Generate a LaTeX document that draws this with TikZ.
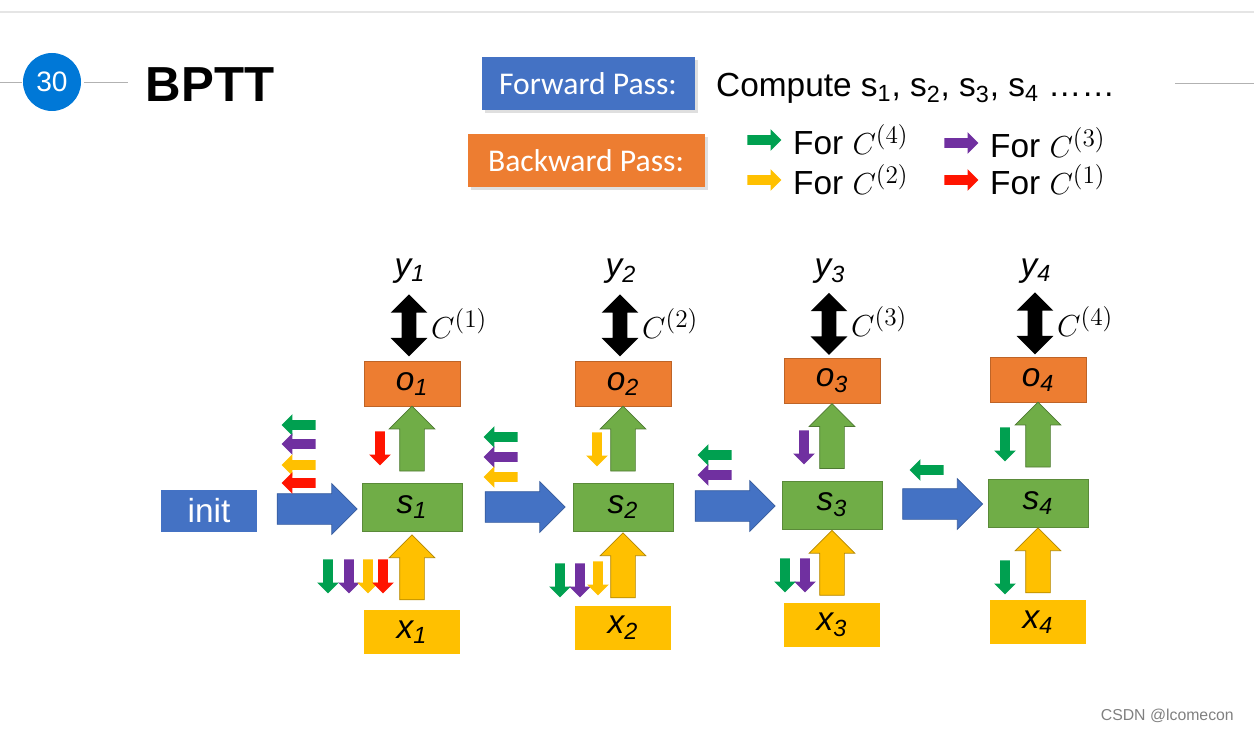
\documentclass[tikz,border=0pt]{standalone}
\usepackage{fontspec}
\setmainfont{Liberation Sans}
\newfontfamily\calib{Carlito}
\usetikzlibrary{shapes.arrows, shapes.geometric, positioning, calc, shadows}
\definecolor{pblue}{RGB}{68,114,196}
\definecolor{porange}{RGB}{237,125,49}
\definecolor{pgreen}{RGB}{112,173,71}
\definecolor{pyellow}{RGB}{255,192,0}
\definecolor{cgreen}{RGB}{0,160,80}
\definecolor{cpurple}{RGB}{112,48,160}
\definecolor{cred}{RGB}{255,20,0}
\definecolor{cdot}{RGB}{0,120,215}
\tikzset{
  box/.style={rectangle, minimum width=19.2mm, minimum height=9mm, inner sep=0pt,
    font=\fontsize{19}{20}\selectfont\itshape},
  sbox/.style={box, fill=pgreen, draw=pgreen!80!black, minimum width=20mm, minimum height=9.6mm},
  obox/.style={box, fill=porange, draw=porange!80!black},
  xbox/.style={box, fill=pyellow, minimum height=8.8mm},
  bigarr/.style={single arrow, inner xsep=0pt, inner ysep=3mm, minimum height=16mm, minimum width=10mm,
    single arrow head extend=2mm, fill=pblue, draw=pblue!80!black},
  uparr/.style={single arrow, inner xsep=0pt, inner ysep=2.4mm, minimum height=13mm, minimum width=9mm,
    single arrow head extend=2.1mm, rotate=90, draw=#1!70!black, fill=#1},
  cost/.style={double arrow, inner xsep=0pt, inner ysep=1.4mm, minimum height=12.4mm, minimum width=7.2mm,
    double arrow head extend=2.2mm, rotate=90, fill=black},
  sm/.style={single arrow, inner xsep=0pt, inner ysep=0.9mm, minimum height=6.8mm, minimum width=4.2mm,
    single arrow head extend=1.2mm, fill=#1},
  smleft/.style={sm=#1, shape border rotate=180},
  smdown/.style={sm=#1, rotate=-90},
  passbox/.style={rectangle, minimum height=10.6mm, font=\calib\fontsize{18}{20}\selectfont,
    text=white, drop shadow={opacity=0.25, shadow xshift=0.6mm, shadow yshift=-0.6mm}},
  lbl/.style={font=\fontsize{19}{20}\selectfont}
}
\begin{document}
\begin{tikzpicture}[x=0.2mm, y=-0.2mm]
  \useasboundingbox (0,0) rectangle (1254,730);
  % header
  \draw[gray!20, line width=1pt] (0,12) -- (1254,12);
  \draw[gray!60] (0,82) -- (22,82) (84,82) -- (128,82) (1175,83) -- (1254,83);
  \node[circle, fill=cdot, minimum size=11.6mm, text=white, font=\fontsize{16}{18}\selectfont] (num) at (52,82) {30};
  \node[font=\fontsize{28}{30}\selectfont\bfseries] (title) at (210,85) {BPTT};
  \node[passbox, fill=pblue, minimum width=42.6mm] (fwd) at (588,84) {Forward Pass:};
  \node[passbox, fill=porange, minimum width=47.4mm] (bwd) at (586,161) {Backward Pass:};
  \node[lbl, anchor=west] (comp) at (710,88) {Compute s\textsubscript{1}, s\textsubscript{2}, s\textsubscript{3}, s\textsubscript{4} \dots\dots};
  % legend
  \node[sm=cgreen] (lg4) at (762,140) {};
  \node[sm=pyellow] (lg2) at (762,180) {};
  \node[sm=cpurple] (lg3) at (959,143) {};
  \node[sm=cred] (lg1) at (959,180) {};
  \node[lbl, right=1mm of lg4] {For $C^{(4)}$};
  \node[lbl, right=1mm of lg2] {For $C^{(2)}$};
  \node[lbl, right=1mm of lg3] {For $C^{(3)}$};
  \node[lbl, right=1mm of lg1] {For $C^{(1)}$};
  % network
  \node[box, fill=pblue, text=white, font=\fontsize{19}{20}\selectfont, minimum height=8.4mm] (init) at (209,511) {init};
  \foreach \i/\cx/\sy/\oy/\xy in {1/412/507/384/632, 2/623/507/384/628, 3/832/505/381/625, 4/1038/503/380/622}{
    \node[sbox] (s\i) at (\cx,\sy) {s\textsubscript{\i}};
    \node[obox] (o\i) at (\cx,\oy) {o\textsubscript{\i}};
    \node[xbox] (x\i) at (\cx,\xy) {x\textsubscript{\i}};
    \node[lbl, font=\fontsize{19}{20}\selectfont\itshape] (y\i) at (\cx-2,271) {y\textsubscript{\i}};
    \node[cost] (c\i) at ($(y\i.south)!0.5!(o\i.north)+(-2,0)$) {};
    \node[lbl, anchor=west] at ($(c\i.center)+(16,-2)$) {$C^{(\i)}$};
    \node[uparr=pgreen] at ($(s\i.north)!0.5!(o\i.south)$) {};
    \node[uparr=pyellow] at ($(x\i.north)!0.5!(s\i.south)+(0,3)$) {};
  }
  \node[bigarr] at ($(init.east)!0.5!(s1.west)$) {};
  \node[bigarr] at ($(s1.east)!0.5!(s2.west)$) {};
  \node[bigarr] at ($(s2.east)!0.5!(s3.west)$) {};
  \node[bigarr] at ($(s3.east)!0.5!(s4.west)$) {};
  % backward gradients
  \node[smleft=cgreen] at (301,425) {};
  \node[smleft=cpurple] at (301,444) {};
  \node[smleft=pyellow] at (301,465) {};
  \node[smleft=cred] at (301,483) {};
  \node[smdown=cred] at (380,446) {};
  \node[smdown=cgreen] at (328,574) {};
  \node[smdown=cpurple] at (349,574) {};
  \node[smdown=pyellow] at (368,574) {};
  \node[smdown=cred] at (383,574) {};
  \node[smleft=cgreen] at (503,437) {};
  \node[smleft=cpurple] at (503,457) {};
  \node[smleft=pyellow] at (503,477) {};
  \node[smdown=pyellow] at (597,447) {};
  \node[smdown=cgreen] at (560,578) {};
  \node[smdown=cpurple] at (580,578) {};
  \node[smdown=pyellow] at (598,576) {};
  \node[smleft=cgreen] at (717,455) {};
  \node[smleft=cpurple] at (717,475) {};
  \node[smdown=cpurple] at (804,445) {};
  \node[smdown=cgreen] at (785,573) {};
  \node[smdown=cpurple] at (805,573) {};
  \node[smleft=cgreen] at (929,470) {};
  \node[smdown=cgreen] at (1005,442) {};
  \node[smdown=cgreen] at (1005,575) {};
  \node[text=gray, font=\fontsize{9}{10}\selectfont, anchor=east] (mark) at (1240,716) {CSDN @lcomecon};
\end{tikzpicture}
\end{document}
